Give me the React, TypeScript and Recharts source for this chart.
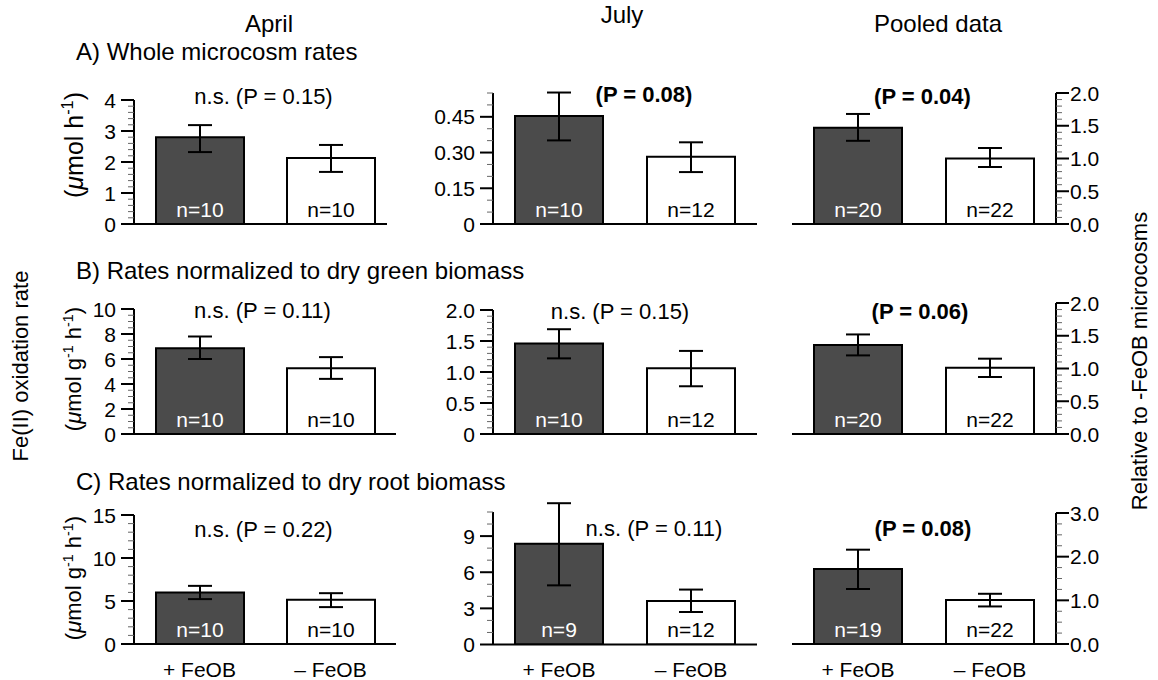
import React from "react";
import { BarChart, Bar, XAxis, YAxis, ErrorBar, Cell, LabelList } from "recharts";

// categories shared by every panel
const groups = ["+ FeOB", "– FeOB"];

// A) whole microcosm rates
const aprilWholeMean = [2.8, 2.13];
const aprilWholeLow = [2.32, 1.68];
const aprilWholeHigh = [3.19, 2.55];
const aprilWholeN = [10, 10];

const julyWholeMean = [0.453, 0.282];
const julyWholeLow = [0.351, 0.218];
const julyWholeHigh = [0.552, 0.343];
const julyWholeN = [10, 12];

const pooledWholeMean = [1.47, 1.0];
const pooledWholeLow = [1.27, 0.87];
const pooledWholeHigh = [1.68, 1.16];
const pooledWholeN = [20, 22];

// B) normalized to dry green biomass
const aprilGreenMean = [6.87, 5.27];
const aprilGreenLow = [6.0, 4.41];
const aprilGreenHigh = [7.8, 6.15];
const aprilGreenN = [10, 10];

const julyGreenMean = [1.46, 1.06];
const julyGreenLow = [1.22, 0.77];
const julyGreenHigh = [1.69, 1.34];
const julyGreenN = [10, 12];

const pooledGreenMean = [1.36, 1.01];
const pooledGreenLow = [1.2, 0.87];
const pooledGreenHigh = [1.52, 1.15];
const pooledGreenN = [20, 22];

// C) normalized to dry root biomass
const aprilRootMean = [5.99, 5.14];
const aprilRootLow = [5.22, 4.29];
const aprilRootHigh = [6.76, 5.91];
const aprilRootN = [10, 10];

const julyRootMean = [8.37, 3.61];
const julyRootLow = [4.91, 2.7];
const julyRootHigh = [11.73, 4.56];
const julyRootN = [9, 12];

const pooledRootMean = [1.72, 1.01];
const pooledRootLow = [1.26, 0.86];
const pooledRootHigh = [2.16, 1.15];
const pooledRootN = [19, 22];

// tick labels
const aprilWholeTicks = ["0", "1", "2", "3", "4"];
const julyWholeTicks = ["0", "0.15", "0.30", "0.45"];
const pooledTicks2 = ["0.0", "0.5", "1.0", "1.5", "2.0"];
const aprilGreenTicks = ["0", "2", "4", "6", "8", "10"];
const julyGreenTicks = ["0", "0.5", "1.0", "1.5", "2.0"];
const aprilRootTicks = ["0", "5", "10", "15"];
const julyRootTicks = ["0", "3", "6", "9"];
const pooledRootTicks = ["0.0", "1.0", "2.0", "3.0"];

const columnTitles = ["April", "July", "Pooled data"];
const rowTitles = [
  "A) Whole microcosm rates",
  "B) Rates normalized to dry green biomass",
  "C) Rates normalized to dry root biomass",
];
const pLabels = [
  ["n.s. (P = 0.15)", "(P = 0.08)", "(P = 0.04)"],
  ["n.s. (P = 0.11)", "n.s. (P = 0.15)", "(P = 0.06)"],
  ["n.s. (P = 0.22)", "n.s. (P = 0.11)", "(P = 0.08)"],
];

const FONT = "'Liberation Sans', Arial, Helvetica, sans-serif";
const barFills = ["#4b4b4b", "#ffffff"];
const nColors = ["#ffffff", "#000000"];
const TICK_FONT = 21;

const build = (mean: number[], low: number[], high: number[], n: number[]) =>
  groups.map((g, i) => ({
    group: g,
    value: mean[i],
    err: [mean[i] - low[i], high[i] - mean[i]],
    n: n[i],
  }));

type PanelCfg = {
  data: any[];
  ticks: string[];
  minor: number;
  max: number;
  left: number;
  right: number;
  top: number;
  base: number;
  side: "left" | "right";
  padRight?: number;
  xLabels?: boolean;
};

const cols = [
  { left: 134, right: 396 },
  { left: 493, right: 757 },
  { left: 792, right: 1056 },
];

const panels: PanelCfg[] = [
  { data: build(aprilWholeMean, aprilWholeLow, aprilWholeHigh, aprilWholeN), ticks: aprilWholeTicks, minor: 0.2, max: 4, ...cols[0], right: 387, padRight: -9, top: 100, base: 224, side: "left" },
  { data: build(julyWholeMean, julyWholeLow, julyWholeHigh, julyWholeN), ticks: julyWholeTicks, minor: 0.05, max: 0.55, ...cols[1], top: 93, base: 224, side: "left" },
  { data: build(pooledWholeMean, pooledWholeLow, pooledWholeHigh, pooledWholeN), ticks: pooledTicks2, minor: 0.1, max: 2, ...cols[2], top: 93, base: 224, side: "right" },
  { data: build(aprilGreenMean, aprilGreenLow, aprilGreenHigh, aprilGreenN), ticks: aprilGreenTicks, minor: 0.5, max: 10, ...cols[0], top: 309, base: 434, side: "left" },
  { data: build(julyGreenMean, julyGreenLow, julyGreenHigh, julyGreenN), ticks: julyGreenTicks, minor: 0.1, max: 2, ...cols[1], top: 310, base: 434, side: "left" },
  { data: build(pooledGreenMean, pooledGreenLow, pooledGreenHigh, pooledGreenN), ticks: pooledTicks2, minor: 0.1, max: 2, ...cols[2], top: 303, base: 434, side: "right" },
  { data: build(aprilRootMean, aprilRootLow, aprilRootHigh, aprilRootN), ticks: aprilRootTicks, minor: 1, max: 15, ...cols[0], top: 515, base: 644, side: "left", xLabels: true },
  { data: build(julyRootMean, julyRootLow, julyRootHigh, julyRootN), ticks: julyRootTicks, minor: 1, max: 11, ...cols[1], top: 511.5, base: 644, side: "left", xLabels: true },
  { data: build(pooledRootMean, pooledRootLow, pooledRootHigh, pooledRootN), ticks: pooledRootTicks, minor: 0.25, max: 3, ...cols[2], top: 513, base: 644, side: "right", xLabels: true },
];

// centres of the P annotations
const pPos = [
  [[263.5, 97], [644, 95], [922.5, 97]],
  [[262.5, 311], [620, 312], [920, 312]],
  [[263.5, 530], [654, 529], [923, 529]],
];

const makeTick = (labels: string[], side: "left" | "right") => (props: any) => {
  const { x, y, payload } = props;
  const idx = labels.findIndex((l) => Math.abs(parseFloat(l) - payload.value) < 1e-6);
  const major = idx >= 0;
  const len = major ? 13 : 6;
  const dir = side === "left" ? -1 : 1;
  return (
    <g>
      <line x1={x} x2={x + dir * len} y1={y} y2={y} stroke={major ? "#000" : "#666"} strokeWidth={major ? 2 : 1} />
      {major && (
        <text
          x={x + dir * (len + (side === "left" ? 5 : 1))}
          y={y}
          textAnchor={side === "left" ? "end" : "start"}
          dominantBaseline="central"
          fontSize={TICK_FONT}
          fill="#000"
        >
          {labels[idx]}
        </text>
      )}
    </g>
  );
};

const NLabel = (props: any) => {
  const vb = props.viewBox && props.viewBox.width != null ? props.viewBox : props;
  const cx = Number(vb.x) + Number(vb.width) / 2;
  const cy = Number(vb.y) + Number(vb.height) - 15;
  return (
    <text x={cx} y={cy} textAnchor="middle" dominantBaseline="central" fontSize={TICK_FONT} fill={nColors[props.index] || "#000"}>
      n={props.value}
    </text>
  );
};

const Panel = ({ cfg }: { cfg: PanelCfg }) => {
  const padTop = 30;
  const padBottom = 40;
  const w = cfg.right - cfg.left + 120;
  const h = cfg.base - cfg.top + padTop + padBottom;
  const allTicks: number[] = [];
  for (let i = 0; i * cfg.minor <= cfg.max + 1e-9; i++) {
    allTicks.push(Math.round(i * cfg.minor * 1e6) / 1e6);
  }
  return (
    <div style={{ position: "absolute", left: cfg.left - 60, top: cfg.top - padTop, width: w, height: h }}>
      <BarChart
        width={w}
        height={h}
        data={cfg.data}
        margin={{ top: padTop, bottom: 0, left: cfg.side === "left" ? 0 : 60, right: cfg.side === "left" ? 60 : 0 }}
        barSize={88}
      >
        <XAxis
          dataKey="group"
          height={padBottom}
          axisLine={{ stroke: "#000", strokeWidth: 2 }}
          tickLine={false}
          tickSize={0}
          tickMargin={18}
          padding={{ left: 0, right: cfg.padRight || 0 }}
          tick={cfg.xLabels ? { fill: "#000", fontSize: TICK_FONT } : false}
          interval={0}
        />
        <YAxis
          orientation={cfg.side}
          width={60}
          type="number"
          domain={[0, cfg.max]}
          allowDataOverflow
          ticks={allTicks}
          interval={0}
          tickSize={0}
          tickMargin={0}
          tickLine={false}
          axisLine={{ stroke: "#000", strokeWidth: 2 }}
          tick={makeTick(cfg.ticks, cfg.side)}
        />
        <Bar dataKey="value" stroke="#000" strokeWidth={2} isAnimationActive={false}>
          {cfg.data.map((d, i) => (
            <Cell key={d.group} fill={barFills[i]} />
          ))}
          <ErrorBar dataKey="err" direction="y" width={12} stroke="#000" strokeWidth={2} isAnimationActive={false} />
          <LabelList dataKey="n" content={NLabel} />
        </Bar>
      </BarChart>
    </div>
  );
};

const centered = (x: number, y: number, extra: React.CSSProperties = {}): React.CSSProperties => ({
  position: "absolute",
  left: x,
  top: y,
  transform: "translate(-50%, -50%)",
  whiteSpace: "nowrap",
  lineHeight: 1,
  ...extra,
});

const rotated = (x: number, y: number, size: number): React.CSSProperties => ({
  position: "absolute",
  left: x,
  top: y,
  transform: "translate(-50%, -50%) rotate(-90deg)",
  whiteSpace: "nowrap",
  lineHeight: 1,
  fontSize: size,
});

const sup: React.CSSProperties = { fontSize: "0.65em", verticalAlign: "0.6em" };
const rowTitle = (top: number): React.CSSProperties => ({
  position: "absolute",
  left: 76,
  top,
  fontSize: 24,
  lineHeight: 1,
  whiteSpace: "nowrap",
});

export default function App() {
  return (
    <div style={{ position: "absolute", left: 0, top: 0, width: 1158, height: 680, background: "#fff", fontFamily: FONT, color: "#000" }}>
      {panels.map((p, i) => (
        <Panel key={i} cfg={p} />
      ))}

      <div style={centered(269, 24, { fontSize: 24 })}>{columnTitles[0]}</div>
      <div style={centered(622, 15, { fontSize: 24 })}>{columnTitles[1]}</div>
      <div style={centered(938, 24, { fontSize: 24 })}>{columnTitles[2]}</div>

      <div style={rowTitle(40)}>{rowTitles[0]}</div>
      <div style={rowTitle(259)}>{rowTitles[1]}</div>
      <div style={rowTitle(470)}>{rowTitles[2]}</div>

      {pLabels.map((row, r) =>
        row.map((t, c) => (
          <div key={`${r}-${c}`} style={centered(pPos[r][c][0], pPos[r][c][1], { fontSize: 22, fontWeight: t.startsWith("n.s.") ? 400 : 700 })}>
            {t}
          </div>
        ))
      )}

      <div style={rotated(73, 145, 25)}>
        (<i>μ</i>mol h<span style={sup}>-1</span>)
      </div>
      <div style={rotated(73, 369, 22)}>
        (<i>μ</i>mol g<span style={sup}>-1</span> h<span style={sup}>-1</span>)
      </div>
      <div style={rotated(73, 578, 22)}>
        (<i>μ</i>mol g<span style={sup}>-1</span> h<span style={sup}>-1</span>)
      </div>
      <div style={rotated(21, 366, 22)}>Fe(II) oxidation rate</div>
      <div style={rotated(1140, 361, 22)}>Relative to -FeOB microcosms</div>
    </div>
  );
}
